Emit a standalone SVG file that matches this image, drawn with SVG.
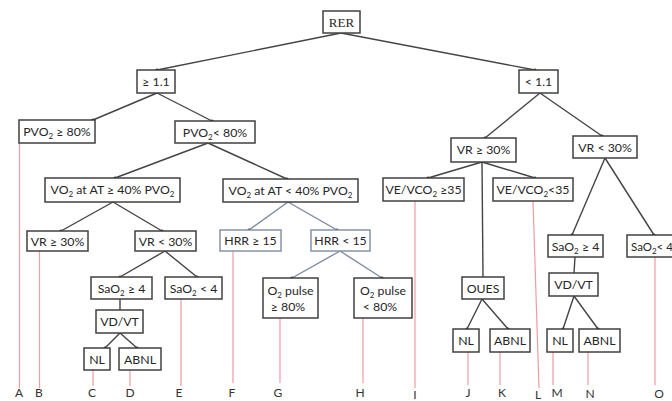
<svg xmlns="http://www.w3.org/2000/svg" width="672" height="401" viewBox="0 0 672 401">
<style>
.b{fill:#fff;stroke:#404040;stroke-width:1.5}
.bb{fill:#fff;stroke:#8593a8;stroke-width:1.5}
.t{font-family:Lato,"Liberation Sans",sans-serif;font-size:12.3px;fill:#262626;text-anchor:middle}
.s{font-size:8px}
.e{stroke:#444;stroke-width:1.4;fill:none}
.eb{stroke:#7d8ba2;stroke-width:1.4;fill:none}
.r{stroke:#f29aa2;stroke-width:1.2;fill:none}
.l{font-family:Lato,"Liberation Sans",sans-serif;font-size:12px;fill:#333;text-anchor:middle}
</style>
<defs>
<marker id="d" viewBox="0 0 4 4" refX="2" refY="2" markerWidth="4" markerHeight="4" markerUnits="userSpaceOnUse"><circle cx="2" cy="2" r="1.6" fill="#222"/></marker>
</defs>
<g id="connectors">
<path class="e" marker-end="url(#d)" d="M341,33 L157,70"/>
<path class="e" marker-end="url(#d)" d="M341,33 L535,70"/>
<path class="e" marker-end="url(#d)" d="M157,93 L93,120"/>
<path class="e" marker-end="url(#d)" d="M157,93 L212,121"/>
<path class="e" marker-end="url(#d)" d="M208,143 L115,178"/>
<path class="e" marker-end="url(#d)" d="M208,143 L287,179"/>
<path class="e" marker-end="url(#d)" d="M113,202 L61,231"/>
<path class="e" marker-end="url(#d)" d="M113,202 L162,231"/>
<path class="eb" marker-end="url(#d)" d="M288,202 L249,230"/>
<path class="eb" marker-end="url(#d)" d="M288,202 L337,230"/>
<path class="e" marker-end="url(#d)" d="M165,251 L120,277"/>
<path class="e" marker-end="url(#d)" d="M165,251 L197,277"/>
<path class="e" d="M120,299 L120,310"/>
<path class="e" marker-end="url(#d)" d="M120,333 L105,348"/>
<path class="e" marker-end="url(#d)" d="M120,333 L137,348"/>
<path class="eb" marker-end="url(#d)" d="M340,251 L292,278"/>
<path class="eb" marker-end="url(#d)" d="M340,251 L382,278"/>
<path class="e" marker-end="url(#d)" d="M540,93 L485,138"/>
<path class="e" marker-end="url(#d)" d="M540,93 L602,136"/>
<path class="e" marker-end="url(#d)" d="M482,162 L428,178"/>
<path class="e" marker-end="url(#d)" d="M482,162 L535,178"/>
<path class="e" d="M482,162 L483,277"/>
<path class="e" marker-end="url(#d)" d="M605,158 L572,235"/>
<path class="e" marker-end="url(#d)" d="M605,158 L654,235"/>
<path class="e" d="M575,257 L574,273"/>
<path class="e" marker-end="url(#d)" d="M482,299 L467,329"/>
<path class="e" marker-end="url(#d)" d="M482,299 L508,329"/>
<path class="e" marker-end="url(#d)" d="M574,296 L563,329"/>
<path class="e" marker-end="url(#d)" d="M574,296 L598,329"/>
</g>
<g id="leaders">
<path class="r" d="M19.5,143 V388"/>
<path class="r" d="M39.5,251 V388"/>
<path class="r" d="M93,370 V386"/>
<path class="r" d="M130,370 V386"/>
<path class="r" d="M181,299 V386"/>
<path class="r" d="M233,251 V383"/>
<path class="r" d="M280,318 V383"/>
<path class="r" d="M363,318 V383"/>
<path class="r" d="M415,201 V388"/>
<path class="r" d="M468,352 V385"/>
<path class="r" d="M500,352 V385"/>
<path class="r" d="M533,201 L539,388"/>
<path class="r" d="M553,352 V385"/>
<path class="r" d="M588,352 V385"/>
<path class="r" d="M655,257 V385"/>
</g>
<g id="rer"><rect class="b" x="323" y="11" width="37" height="22"/><text x="341.5" y="26.5" style="font-family:'Liberation Serif',serif;font-size:13px;fill:#262626;text-anchor:middle">RER</text></g>
<g id="ge11"><rect class="b" x="137" y="70" width="38" height="23"/><text class="t" x="156" y="86">≥ 1.1</text></g>
<g id="lt11"><rect class="b" x="519" y="70" width="39" height="23"/><text class="t" x="538.5" y="86">&lt; 1.1</text></g>
<g id="pvo2ge"><rect class="b" x="19" y="120" width="76" height="23"/><text class="t" x="57" y="136">PVO<tspan class="s" dy="3">2</tspan><tspan dy="-3"> ≥ 80%</tspan></text></g>
<g id="pvo2lt"><rect class="b" x="175" y="121" width="80" height="22"/><text class="t" x="215" y="136.5">PVO<tspan class="s" dy="3">2</tspan><tspan dy="-3">&lt; 80%</tspan></text></g>
<g id="vo2ge"><rect class="b" x="45" y="178" width="135" height="24"/><text class="t" x="112.5" y="194">VO<tspan class="s" dy="3">2</tspan><tspan dy="-3"> at AT ≥ 40% PVO</tspan><tspan class="s" dy="3">2</tspan></text></g>
<g id="vo2lt"><rect class="b" x="223" y="179" width="135" height="23"/><text class="t" x="290.5" y="194.5">VO<tspan class="s" dy="3">2</tspan><tspan dy="-3"> at AT &lt; 40% PVO</tspan><tspan class="s" dy="3">2</tspan></text></g>
<g id="vrge1"><rect class="b" x="27" y="231" width="61" height="20"/><text class="t" x="57.5" y="245.5">VR ≥ 30%</text></g>
<g id="vrlt1"><rect class="b" x="135" y="231" width="61" height="20"/><text class="t" x="165.5" y="245.5">VR &lt; 30%</text></g>
<g id="hrrge"><rect class="bb" x="220" y="230" width="61" height="21"/><text class="t" x="250.5" y="245">HRR ≥ 15</text></g>
<g id="hrrlt"><rect class="bb" x="311" y="230" width="59" height="21"/><text class="t" x="340.5" y="245">HRR &lt; 15</text></g>
<g id="sao2ge1"><rect class="b" x="91" y="277" width="61" height="22"/><text class="t" x="121.5" y="292.5">SaO<tspan class="s" dy="3">2</tspan><tspan dy="-3"> ≥ 4</tspan></text></g>
<g id="sao2lt1"><rect class="b" x="165" y="277" width="57" height="22"/><text class="t" x="193.5" y="292.5">SaO<tspan class="s" dy="3">2</tspan><tspan dy="-3"> &lt; 4</tspan></text></g>
<g id="vdvt1"><rect class="b" x="96" y="310" width="47" height="23"/><text class="t" x="119.5" y="326">VD/VT</text></g>
<g id="nlC"><rect class="b" x="84" y="348" width="26" height="22"/><text class="t" x="97" y="363.5">NL</text></g>
<g id="abnlD"><rect class="b" x="119" y="348" width="42" height="22"/><text class="t" x="140" y="363.5">ABNL</text></g>
<g id="o2ge"><rect class="b" x="263" y="278" width="55" height="40"/><text class="t" x="290.5" y="295">O<tspan class="s" dy="3">2</tspan><tspan dy="-3"> pulse</tspan></text><text class="t" x="288" y="311">≥ 80%</text></g>
<g id="o2lt"><rect class="b" x="354" y="278" width="58" height="40"/><text class="t" x="383" y="295">O<tspan class="s" dy="3">2</tspan><tspan dy="-3"> pulse</tspan></text><text class="t" x="380" y="311">&lt; 80%</text></g>
<g id="vrge2"><rect class="b" x="451" y="138" width="65" height="24"/><text class="t" x="483.5" y="154">VR ≥ 30%</text></g>
<g id="vrlt2"><rect class="b" x="573" y="136" width="64" height="22"/><text class="t" x="605" y="151.5">VR &lt; 30%</text></g>
<g id="vege"><rect class="b" x="383" y="178" width="81" height="23"/><text class="t" x="423.5" y="194">VE/VCO<tspan class="s" dy="3">2</tspan><tspan dy="-3"> ≥35</tspan></text></g>
<g id="velt"><rect class="b" x="493" y="178" width="80" height="23"/><text class="t" x="533" y="194">VE/VCO<tspan class="s" dy="3">2</tspan><tspan dy="-3">&lt;35</tspan></text></g>
<g id="oues"><rect class="b" x="462" y="277" width="42" height="22"/><text class="t" x="483" y="292.5">OUES</text></g>
<g id="sao2ge2"><rect class="b" x="548" y="235" width="55" height="22"/><text class="t" x="575.5" y="250.5">SaO<tspan class="s" dy="3">2</tspan><tspan dy="-3"> ≥ 4</tspan></text></g>
<g id="sao2lt2"><rect class="b" x="627" y="235" width="60" height="22"/><text class="t" x="631" y="250.5" style="text-anchor:start;font-size:11.5px">SaO<tspan class="s" dy="3">2</tspan><tspan dy="-3">&lt; 4</tspan></text></g>
<g id="vdvt2"><rect class="b" x="549" y="273" width="49" height="23"/><text class="t" x="573.5" y="289">VD/VT</text></g>
<g id="nlJ"><rect class="b" x="453" y="329" width="26" height="23"/><text class="t" x="466" y="345">NL</text></g>
<g id="abnlK"><rect class="b" x="490" y="329" width="40" height="23"/><text class="t" x="510" y="345">ABNL</text></g>
<g id="nlM"><rect class="b" x="547" y="329" width="26" height="23"/><text class="t" x="560" y="345">NL</text></g>
<g id="abnlN"><rect class="b" x="579" y="329" width="41" height="23"/><text class="t" x="599.5" y="345">ABNL</text></g>
<g id="labels">
<text class="l" x="19" y="397">A</text>
<text class="l" x="39" y="397">B</text>
<text class="l" x="92" y="397">C</text>
<text class="l" x="130" y="397">D</text>
<text class="l" x="179" y="397">E</text>
<text class="l" x="232" y="397">F</text>
<text class="l" x="278" y="397">G</text>
<text class="l" x="360" y="397">H</text>
<text class="l" x="415" y="399">I</text>
<text class="l" x="468" y="397">J</text>
<text class="l" x="502" y="397">K</text>
<text class="l" x="538" y="399">L</text>
<text class="l" x="557" y="397">M</text>
<text class="l" x="590" y="398">N</text>
<text class="l" x="659" y="398">O</text>
</g>
</svg>
